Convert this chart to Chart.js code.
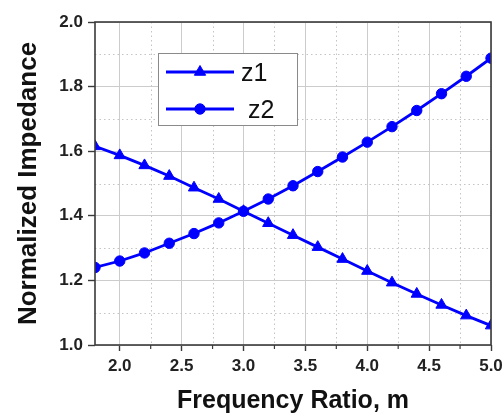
<!DOCTYPE html>
<html>
<head>
<meta charset="utf-8">
<script src="https://cdn.jsdelivr.net/npm/chart.js@4.4.0/dist/chart.umd.min.js"></script>
<style>
html,body{margin:0;padding:0;background:#ffffff;}
#c{display:block;}
</style>
</head>
<body>
<canvas id="c" width="503" height="414"></canvas>
<script>
// ---- data ----
const mValues = [1.8, 2.0, 2.2, 2.4, 2.6, 2.8, 3.0, 3.2, 3.4, 3.6, 3.8, 4.0, 4.2, 4.4, 4.6, 4.8, 5.0];
const z1Values = [1.615, 1.587, 1.556, 1.523, 1.487, 1.452, 1.414, 1.377, 1.340, 1.303, 1.266, 1.229, 1.193, 1.158, 1.124, 1.091, 1.060];
const z2Values = [1.240, 1.260, 1.285, 1.315, 1.345, 1.378, 1.414, 1.452, 1.493, 1.537, 1.582, 1.628, 1.676, 1.726, 1.778, 1.832, 1.888];
const seriesLabels = ['z1', ' z2'];
const xMajorTicks = [2.0, 2.5, 3.0, 3.5, 4.0, 4.5, 5.0];
const xMinorTicks = [2.25, 2.75, 3.25, 3.75, 4.25, 4.75];
const yMajorTicks = [1.0, 1.2, 1.4, 1.6, 1.8, 2.0];
const yMinorTicks = [1.1, 1.3, 1.5, 1.7, 1.9];
const xTitle = 'Frequency Ratio, m';
const yTitle = 'Normalized Impedance';

const BLUE = '#0000ff';

const minorGridPlugin = {
  id: 'minorGrid',
  beforeDatasetsDraw(chart) {
    const {ctx, chartArea: a, scales: {x, y}} = chart;
    ctx.save();
    ctx.strokeStyle = '#c4c4c4';
    ctx.lineWidth = 1;
    ctx.setLineDash([1.5, 3]);
    xMinorTicks.forEach(v => {
      const px = Math.round(x.getPixelForValue(v)) + 0.5;
      ctx.beginPath(); ctx.moveTo(px, a.top); ctx.lineTo(px, a.bottom); ctx.stroke();
    });
    yMinorTicks.forEach(v => {
      const py = Math.round(y.getPixelForValue(v)) + 0.5;
      ctx.beginPath(); ctx.moveTo(a.left, py); ctx.lineTo(a.right, py); ctx.stroke();
    });
    ctx.restore();
  },
  afterDatasetsDraw(chart) {
    const {ctx, chartArea: a, scales: {x}} = chart;
    ctx.save();
    ctx.strokeStyle = '#3a3a3a';
    ctx.lineWidth = 1.6;
    ctx.strokeRect(a.left, a.top, a.right - a.left, a.bottom - a.top);
    ctx.lineWidth = 1.2;
    xMinorTicks.forEach(v => {
      const px = x.getPixelForValue(v);
      ctx.beginPath(); ctx.moveTo(px, a.bottom); ctx.lineTo(px, a.bottom + 4); ctx.stroke();
    });
    ctx.restore();
  }
};

const legendPlugin = {
  id: 'boxLegend',
  afterDraw(chart) {
    const {ctx} = chart;
    const box = {x: 158, y: 53, w: 139, h: 72};
    ctx.save();
    ctx.fillStyle = '#ffffff';
    ctx.fillRect(box.x, box.y, box.w, box.h);
    ctx.strokeStyle = '#8a8a8a';
    ctx.lineWidth = 1;
    ctx.strokeRect(box.x + 0.5, box.y + 0.5, box.w, box.h);
    const rows = [72, 109];
    chart.data.datasets.forEach((ds, i) => {
      const yy = rows[i];
      ctx.strokeStyle = ds.borderColor;
      ctx.lineWidth = ds.borderWidth;
      ctx.beginPath(); ctx.moveTo(166, yy); ctx.lineTo(234, yy); ctx.stroke();
      ctx.fillStyle = ds.pointBackgroundColor;
      ctx.strokeStyle = ds.pointBorderColor;
      ctx.lineWidth = ds.pointBorderWidth;
      Chart.helpers.drawPoint(ctx, {
        pointStyle: ds.pointStyle, radius: ds.pointRadius, rotation: 0, borderWidth: ds.pointBorderWidth
      }, 200, yy);
      ctx.fillStyle = '#111111';
      ctx.font = '25px "Liberation Sans", Arial, sans-serif';
      ctx.textBaseline = 'alphabetic';
      ctx.textAlign = 'left';
      ctx.fillText(ds.label, 241, yy + 9);
    });
    ctx.restore();
  }
};

const ctx = document.getElementById('c').getContext('2d');
new Chart(ctx, {
  type: 'line',
  data: {
    datasets: [
      {
        label: seriesLabels[0],
        data: mValues.map((m, i) => ({x: m, y: z1Values[i]})),
        borderColor: BLUE, backgroundColor: BLUE,
        pointBackgroundColor: BLUE, pointBorderColor: BLUE,
        borderWidth: 2.8, pointStyle: 'triangle', pointRadius: 6.5, pointBorderWidth: 1,
        tension: 0, clip: 0
      },
      {
        label: seriesLabels[1],
        data: mValues.map((m, i) => ({x: m, y: z2Values[i]})),
        borderColor: BLUE, backgroundColor: BLUE,
        pointBackgroundColor: BLUE, pointBorderColor: BLUE,
        borderWidth: 2.8, pointStyle: 'circle', pointRadius: 5.2, pointBorderWidth: 1,
        tension: 0, clip: 0
      }
    ]
  },
  options: {
    responsive: false,
    animation: false,
    devicePixelRatio: 1,
    layout: {padding: {top: 22, right: 12, left: 0, bottom: 0}},
    plugins: {legend: {display: false}, tooltip: {enabled: false}},
    scales: {
      x: {
        type: 'linear',
        min: 1.8, max: 5.0,
        afterBuildTicks(scale) { scale.ticks = xMajorTicks.map(v => ({value: v})); },
        afterFit(scale) { scale.height = 69; scale.paddingLeft = 0; scale.paddingRight = 0; },
        ticks: {
          autoSkip: false, maxRotation: 0, padding: 5, color: '#222222',
          font: {family: '"Liberation Sans", Arial, sans-serif', size: 17, weight: 'bold'},
          callback: v => Number(v).toFixed(1)
        },
        grid: {color: '#cccccc', lineWidth: 1, tickLength: 6, tickColor: '#3a3a3a', tickWidth: 1.4},
        border: {display: false},
        title: {
          display: true, text: xTitle, color: '#111111',
          font: {family: '"Liberation Sans", Arial, sans-serif', size: 25, weight: 'bold', lineHeight: 1},
          padding: {top: 0, bottom: 0}
        }
      },
      y: {
        type: 'linear',
        min: 1.0, max: 2.0,
        afterBuildTicks(scale) { scale.ticks = yMajorTicks.map(v => ({value: v})); },
        afterFit(scale) { scale.width = 95; scale.paddingTop = 0; scale.paddingBottom = 0; },
        ticks: {
          autoSkip: false, padding: 5, color: '#222222',
          font: {family: '"Liberation Sans", Arial, sans-serif', size: 17, weight: 'bold'},
          callback: v => Number(v).toFixed(1)
        },
        grid: {color: '#cccccc', lineWidth: 1, tickLength: 7, tickColor: '#3a3a3a', tickWidth: 1.4},
        border: {display: false},
        title: {
          display: true, text: yTitle, color: '#111111',
          font: {family: '"Liberation Sans", Arial, sans-serif', size: 26, weight: 'bold', lineHeight: 1},
          padding: {top: 16, bottom: 0}
        }
      }
    }
  },
  plugins: [minorGridPlugin, legendPlugin]
});
</script>
</body>
</html>
